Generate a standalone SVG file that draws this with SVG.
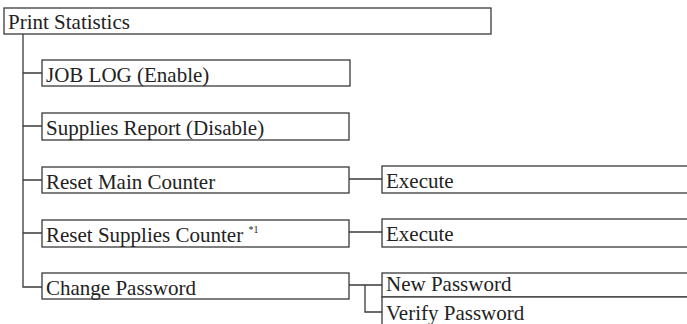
<svg xmlns="http://www.w3.org/2000/svg" width="687" height="324" viewBox="0 0 687 324">
<style>
.box{fill:#fff;stroke:#3a3a3a;stroke-width:1.3}
.ln{fill:none;stroke:#3a3a3a;stroke-width:1.3}
.t{font-family:"Liberation Serif","Times New Roman",serif;font-size:21px;fill:#222}
.sup{font-size:10px}
</style>
<rect width="687" height="324" fill="#fff"/>
<g id="connectors">
<path class="ln" d="M23 34 V287 H42"/>
<path class="ln" d="M23 73 H42 M23 126 H42 M23 180 H42 M23 233 H42"/>
<path class="ln" d="M349 179 H382 M349 232 H382 M349 285 H382 M365 285 V312 H382"/>
</g>
<g id="print-statistics"><rect class="box" x="4" y="8" width="487" height="26"/><text class="t" x="8" y="29">Print Statistics</text></g>
<g id="job-log"><rect class="box" x="42" y="60" width="308" height="26"/><text class="t" x="46" y="82">JOB LOG (Enable)</text></g>
<g id="supplies-report"><rect class="box" x="42" y="113" width="307" height="27"/><text class="t" x="46" y="135">Supplies Report (Disable)</text></g>
<g id="reset-main-counter"><rect class="box" x="42" y="167" width="307" height="26"/><text class="t" x="46" y="189">Reset Main Counter</text></g>
<g id="reset-supplies-counter"><rect class="box" x="42" y="220" width="307" height="27"/><text class="t" x="46" y="242">Reset Supplies Counter <tspan class="sup" dy="-9">*1</tspan></text></g>
<g id="change-password"><rect class="box" x="42" y="273" width="307" height="26"/><text class="t" x="46" y="295">Change Password</text></g>
<g id="execute-main"><rect class="box" x="382" y="166" width="320" height="27"/><text class="t" x="386" y="188">Execute</text></g>
<g id="execute-supplies"><rect class="box" x="382" y="219" width="320" height="28"/><text class="t" x="386" y="241">Execute</text></g>
<g id="new-password"><rect class="box" x="382" y="273" width="320" height="24"/><text class="t" x="386" y="291">New Password</text></g>
<g id="verify-password"><rect class="box" x="382" y="297" width="320" height="40"/><text class="t" x="386" y="320">Verify Password</text></g>
</svg>
